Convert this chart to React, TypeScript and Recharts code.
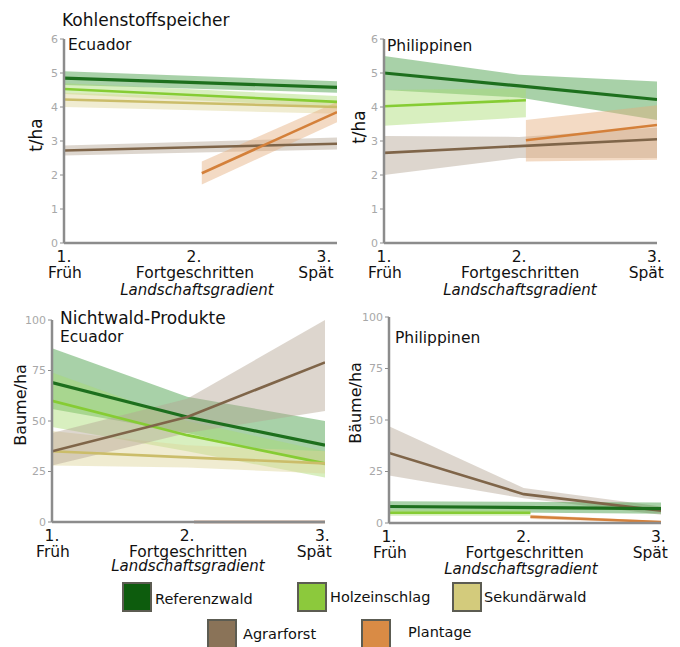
import React from 'react';
import { Area, ComposedChart, Line, XAxis, YAxis } from 'recharts';

// Landschaftsgradient stages
const stageTicks = [1, 2, 3];
const stageLabels = ['Früh', 'Fortgeschritten', 'Spät'];
const carbonTicks = [0, 1, 2, 3, 4, 5, 6];
const treeTicks = [0, 25, 50, 75, 100];

// Kohlenstoffspeicher – Ecuador (t/ha)
const ecCRef = [{ x: 1, y: 4.85, band: [4.65, 5.05] }, { x: 3.1, y: 4.58, band: [4.42, 4.76] }];
const ecCHolz = [{ x: 1, y: 4.53, band: [4.38, 4.7] }, { x: 3.1, y: 4.15, band: [4.0, 4.32] }];
const ecCSek = [{ x: 1, y: 4.22, band: [4.0, 4.42] }, { x: 3.1, y: 4.0, band: [3.8, 4.18] }];
const ecCAgrar = [{ x: 1, y: 2.72, band: [2.57, 2.87] }, { x: 3.1, y: 2.92, band: [2.75, 3.1] }];
const ecCPlant = [{ x: 2.06, y: 2.05, band: [1.72, 2.4] }, { x: 3.1, y: 3.85, band: [3.55, 4.15] }];

// Kohlenstoffspeicher – Philippinen (t/ha)
const phCRef = [{ x: 1, y: 5.0, band: [4.5, 5.5] }, { x: 2, y: 4.62, band: [4.28, 4.95] }, { x: 3.02, y: 4.22, band: [3.62, 4.75] }];
const phCHolz = [{ x: 1, y: 4.02, band: [3.45, 4.5] }, { x: 2.05, y: 4.2, band: [3.7, 4.55] }];
const phCAgrar = [{ x: 1, y: 2.65, band: [2.0, 3.15] }, { x: 2, y: 2.85, band: [2.5, 3.12] }, { x: 3.02, y: 3.05, band: [2.5, 3.4] }];
const phCPlant = [{ x: 2.05, y: 3.02, band: [2.4, 3.62] }, { x: 3.02, y: 3.47, band: [2.45, 4.05] }];

// Nichtwald-Produkte – Ecuador (Bäume/ha)
const ecNRef = [{ x: 1, y: 69, band: [56, 86] }, { x: 2, y: 52, band: [44, 62] }, { x: 3.02, y: 38, band: [28, 50] }];
const ecNHolz = [{ x: 1, y: 60, band: [47, 74] }, { x: 2, y: 43, band: [35, 50] }, { x: 3.02, y: 29, band: [22, 35] }];
const ecNSek = [{ x: 1, y: 35, band: [28, 45] }, { x: 2, y: 32, band: [27, 38] }, { x: 3.02, y: 29, band: [24, 35] }];
const ecNAgrar = [{ x: 1, y: 35, band: [28, 44] }, { x: 2, y: 52, band: [44, 61] }, { x: 3.02, y: 79, band: [55, 100] }];
const ecNPlant = [{ x: 2.05, y: 0, band: [0, 0.6] }, { x: 3.02, y: 0, band: [0, 0.6] }];

// Nichtwald-Produkte – Philippinen (Bäume/ha)
const phNAgrar = [{ x: 1, y: 34, band: [23, 47] }, { x: 2, y: 14, band: [12, 17] }, { x: 3.02, y: 6, band: [4, 8] }];
const phNRef = [{ x: 1, y: 8, band: [5.5, 10.5] }, { x: 3.02, y: 7, band: [4.5, 10] }];
const phNHolz = [{ x: 1, y: 5, band: [3.5, 6.5] }, { x: 2.05, y: 5, band: [3.5, 6.5] }];
const phNPlant = [{ x: 2.05, y: 3, band: [2, 4] }, { x: 3.02, y: 0.5, band: [0, 1] }];

const COL = {
  ref: { line: '#1d6f1d', band: '#3f9a3f', box: '#0d5c0d' },
  holz: { line: '#86cc34', band: '#a9dc72', box: '#8cc93c' },
  sek: { line: '#cbbd6a', band: '#ddd59a', box: '#d3cb7c' },
  agrar: { line: '#7f6549', band: '#b4a592', box: '#8a7358' },
  plant: { line: '#d4803a', band: '#e5ac7c', box: '#d98b45' },
};

const FONT = 'DejaVu Sans, Verdana, sans-serif';
const AXIS = '#8c8c8c';

type Pt = { x: number; y: number; band: number[] };
type Series = { key: string; data: Pt[]; color: { line: string; band: string } };

const XTick = (props: any) => {
  const { x, y, payload } = props;
  const i = stageTicks.indexOf(payload.value);
  // the last label sits a little left of its tick, as in the original
  const shift = i === 2 ? -8 : 1;
  return (
    <g fontFamily={FONT} fontSize={15.5} fill="#111">
      <text x={x} y={y + 19} textAnchor="middle">{payload.value}.</text>
      <text x={x + shift} y={y + 35} textAnchor="middle">{stageLabels[i]}</text>
    </g>
  );
};

function Panel(p: {
  left: number; top: number; width: number; height: number;
  margin: { top: number; right: number; left: number; bottom: number };
  yWidth: number; xHeight: number; xMax: number; yMax: number; yTicks: number[];
  series: Series[];
}) {
  return (
    <div style={{ position: 'absolute', left: p.left, top: p.top }}>
      <ComposedChart width={p.width} height={p.height} margin={p.margin}>
        <XAxis
          type="number" dataKey="x" domain={[1, p.xMax]} ticks={stageTicks}
          height={p.xHeight} tickSize={0} tickMargin={0} tick={<XTick />}
          axisLine={{ stroke: AXIS, strokeWidth: 2.5 }} allowDataOverflow
        />
        <YAxis
          type="number" domain={[0, p.yMax]} ticks={p.yTicks} width={p.yWidth}
          tickSize={4} tickMargin={2} interval={0}
          tick={{ fill: '#a8a8a8', fontSize: 11, fontFamily: FONT }}
          tickLine={{ stroke: AXIS }} axisLine={{ stroke: AXIS, strokeWidth: 2.5 }}
        />
        {p.series.map((s) => (
          <Area
            key={'a' + s.key} data={s.data} dataKey="band" type="linear"
            stroke="none" fill={s.color.band} fillOpacity={0.45} isAnimationActive={false}
          />
        ))}
        {p.series.map((s) => (
          <Line
            key={'l' + s.key} data={s.data} dataKey="y" type="linear"
            stroke={s.color.line} strokeWidth={s.key === 'ref' ? 3.2 : 2.6} dot={false} isAnimationActive={false}
          />
        ))}
      </ComposedChart>
    </div>
  );
}

const legendItems = [
  { label: 'Referenzwald', c: COL.ref.box, bx: 123, by: 583, tx: 155, ty: 604 },
  { label: 'Holzeinschlag', c: COL.holz.box, bx: 298, by: 583, tx: 330, ty: 602 },
  { label: 'Sekundärwald', c: COL.sek.box, bx: 453, by: 583, tx: 484, ty: 602 },
  { label: 'Agrarforst', c: COL.agrar.box, bx: 208, by: 620, tx: 243, ty: 639 },
  { label: 'Plantage', c: COL.plant.box, bx: 362, by: 620, tx: 408, ty: 637 },
];

export default function App() {
  return (
    <div style={{ position: 'absolute', left: 0, top: 0, width: 680, height: 647, background: '#fff', overflow: 'hidden' }}>
      <style>{'.recharts-surface { overflow: visible; }'}</style>
      <Panel
        left={0} top={0} width={340} height={300} margin={{ top: 39, right: 3, left: 0, bottom: 0 }}
        yWidth={64} xHeight={57} xMax={3.1} yMax={6} yTicks={carbonTicks}
        series={[
          { key: 'ref', data: ecCRef, color: COL.ref },
          { key: 'holz', data: ecCHolz, color: COL.holz },
          { key: 'sek', data: ecCSek, color: COL.sek },
          { key: 'agrar', data: ecCAgrar, color: COL.agrar },
          { key: 'plant', data: ecCPlant, color: COL.plant },
        ]}
      />
      <Panel
        left={340} top={0} width={320} height={300} margin={{ top: 39, right: 3, left: 0, bottom: 0 }}
        yWidth={44} xHeight={57} xMax={3.02} yMax={6} yTicks={carbonTicks}
        series={[
          { key: 'ref', data: phCRef, color: COL.ref },
          { key: 'holz', data: phCHolz, color: COL.holz },
          { key: 'agrar', data: phCAgrar, color: COL.agrar },
          { key: 'plant', data: phCPlant, color: COL.plant },
        ]}
      />
      <Panel
        left={0} top={300} width={340} height={280} margin={{ top: 20, right: 15, left: 0, bottom: 0 }}
        yWidth={52} xHeight={58} xMax={3.02} yMax={100} yTicks={treeTicks}
        series={[
          { key: 'ref', data: ecNRef, color: COL.ref },
          { key: 'holz', data: ecNHolz, color: COL.holz },
          { key: 'sek', data: ecNSek, color: COL.sek },
          { key: 'agrar', data: ecNAgrar, color: COL.agrar },
          { key: 'plant', data: ecNPlant, color: { line: '#8a5a34', band: COL.plant.band } },
        ]}
      />
      <Panel
        left={340} top={300} width={340} height={280} margin={{ top: 17, right: 19, left: 0, bottom: 0 }}
        yWidth={49} xHeight={57} xMax={3.02} yMax={100} yTicks={treeTicks}
        series={[
          { key: 'agrar', data: phNAgrar, color: COL.agrar },
          { key: 'ref', data: phNRef, color: COL.ref },
          { key: 'holz', data: phNHolz, color: COL.holz },
          { key: 'plant', data: phNPlant, color: COL.plant },
        ]}
      />
      <svg width={680} height={647} style={{ position: 'absolute', left: 0, top: 0, pointerEvents: 'none' }} fontFamily={FONT} fill="#111">
        <text x={62} y={26} fontSize={17}>Kohlenstoffspeicher</text>
        <text x={68} y={50} fontSize={15.5}>Ecuador</text>
        <text x={387} y={51} fontSize={15.5}>Philippinen</text>
        <text x={60} y={324} fontSize={17}>Nichtwald-Produkte</text>
        <text x={60} y={342} fontSize={15.5}>Ecuador</text>
        <text x={395} y={343} fontSize={15.5}>Philippinen</text>

        <text transform="translate(42,135) rotate(-90)" textAnchor="middle" fontSize={17}>t/ha</text>
        <text transform="translate(365,127) rotate(-90)" textAnchor="middle" fontSize={17}>t/ha</text>
        <text transform="translate(26,405) rotate(-90)" textAnchor="middle" fontSize={16}>Baume/ha</text>
        <text transform="translate(361,403) rotate(-90)" textAnchor="middle" fontSize={16}>Bäume/ha</text>

        <text x={197} y={295} textAnchor="middle" fontSize={15} fontStyle="italic">Landschaftsgradient</text>
        <text x={520} y={295} textAnchor="middle" fontSize={15} fontStyle="italic">Landschaftsgradient</text>
        <text x={188} y={571} textAnchor="middle" fontSize={15} fontStyle="italic">Landschaftsgradient</text>
        <text x={521} y={574} textAnchor="middle" fontSize={15} fontStyle="italic">Landschaftsgradient</text>

        {legendItems.map((l) => (
          <g key={l.label}>
            <rect x={l.bx} y={l.by} width={28} height={28} fill={l.c} stroke="#5c5c52" strokeWidth={2} />
            <text x={l.tx} y={l.ty} fontSize={14.5}>{l.label}</text>
          </g>
        ))}
      </svg>
    </div>
  );
}
